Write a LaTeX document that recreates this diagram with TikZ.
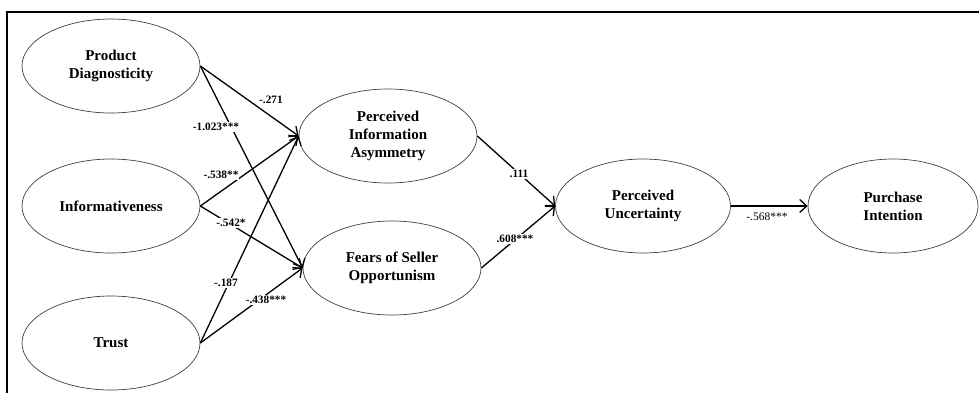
\documentclass[tikz,border=0pt]{standalone}
\usepackage{fontspec}
\setmainfont{Liberation Serif}
\usetikzlibrary{shapes.geometric}
\usetikzlibrary{arrows.meta}
\newcommand*{\ewd}{178pt}
\newcommand*{\eht}{94pt}
\begin{document}
\begin{tikzpicture}[x=1pt, y=-1pt,
    construct/.style={ellipse, draw=black!75, line width=0.7pt, minimum width=\ewd, minimum height=\eht, inner sep=0pt, align=center, font=\bfseries\fontsize{15}{18}\selectfont},
    causal/.style={line width=1.3pt, -{Straight Barb[length=7pt, width=13pt, line width=1.3pt]}},
    coef/.style={fill=white, inner sep=1pt, font=\bfseries\fontsize{11.3}{13}\selectfont}]
    \useasboundingbox (0,0) rectangle (979,392);
    \draw [line width=1.3pt] (7,12) rectangle (995,405);
        \node [construct] (diag) at (111, 66) {Product\\Diagnosticity};
        \node [construct] (info) at (111,206) {Informativeness};
        \node [construct] (trust) at (111,343) {Trust};
        \node [construct] (pia)  at (388,136) {Perceived\\Information\\Asymmetry};
        \node [construct] (fso)  at (392,268) {Fears of Seller\\Opportunism};
        \node [construct, minimum width=175pt] (pu) at (643,206) {Perceived\\Uncertainty};
        \node [construct, minimum width=170pt] (pi) at (893,206) {Purchase\\Intention};
        \draw [causal] (diag.east)  -- (pia.west);
        \draw [causal] (diag.east)  -- (fso.west);
        \draw [causal] (info.east)  -- (pia.west);
        \draw [causal] (info.east)  -- (fso.west);
        \draw [causal] (trust.east) -- (pia.west);
        \draw [causal] (trust.east) -- (fso.west);
        \draw [causal] (pia.east)   -- (pu.west);
        \draw [causal] (fso.east)   -- (pu.west);
        \draw [causal] (pu.east)    -- (pi.west);
        % path coefficients
        \node [coef] (c1) at (271,100) {-.271};
        \node [coef] (c2) at (216,127) {-1.023***};
        \node [coef] (c3) at (221,175) {-.538**};
        \node [coef] (c4) at (231,223) {-.542*};
        \node [coef] (c5) at (226,283) {-.187};
        \node [coef] (c6) at (266,300) {-.438***};
        \node [coef] (c7) at (519,174) {.111};
        \node [coef] (c8) at (515,239) {.608***};
        \node [font=\fontsize{11.5}{13}\selectfont] (c9) at (767,217) {-.568***};
    \end{tikzpicture}
\end{document}
